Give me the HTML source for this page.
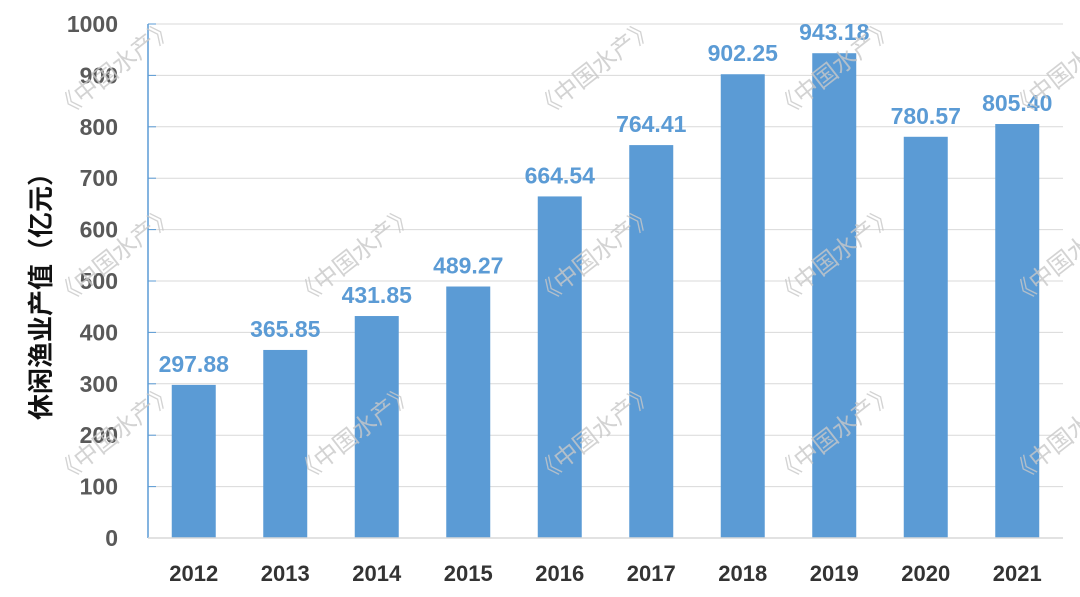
<!DOCTYPE html>
<html><head><meta charset="utf-8"><style>
html,body{margin:0;padding:0;background:#fff;width:1080px;height:597px;overflow:hidden;}
svg{display:block;overflow:hidden;font-family:"Liberation Sans","Noto Sans CJK SC",sans-serif;}
</style></head><body>
<svg id="chart" width="1080" height="597" viewBox="0 0 1080 597" xmlns="http://www.w3.org/2000/svg">
<g id="grid"></g>
<g id="bars"></g>
<g id="axes"></g>
<g id="wm"></g>
<text transform="translate(50,290) rotate(-90)" text-anchor="middle" font-size="26" font-weight="bold" fill="#111">休闲渔业产值（亿元）</text>
</svg>
<script>
const categories = ["2012","2013","2014","2015","2016","2017","2018","2019","2020","2021"];
const values = [297.88,365.85,431.85,489.27,664.54,764.41,902.25,943.18,780.57,805.40];
const valueLabels = ["297.88","365.85","431.85","489.27","664.54","764.41","902.25","943.18","780.57","805.40"];
const yTicks = [0,100,200,300,400,500,600,700,800,900,1000];

const NS="http://www.w3.org/2000/svg";
const x0=148, step=91.5, y0=538, yTop=24, yMax=1000, barW=44;
const yS=v=>y0-(v/yMax)*(y0-yTop);
const xC=i=>x0+step*(i+0.5);
function mk(tag,attrs,parent,text){const e=document.createElementNS(NS,tag);for(const k in attrs)e.setAttribute(k,attrs[k]);if(text!==undefined)e.textContent=text;parent.appendChild(e);return e;}
const grid=document.getElementById('grid'),bars=document.getElementById('bars'),axes=document.getElementById('axes'),wm=document.getElementById('wm');
const xEnd=x0+step*categories.length;
yTicks.forEach(t=>{
  const y=yS(t);
  if(t>0){const g=mk('line',{x1:x0,x2:xEnd,y1:y,y2:y,stroke:'#d9d9d9','stroke-width':1},grid);
  
  }
  const tk=mk('line',{x1:x0,x2:x0+8,y1:y,y2:y,stroke:'#5b9bd5','stroke-width':1},axes);
  
  
  const lb=mk('text',{x:118,y:y+8,'text-anchor':'end','font-size':23,'font-weight':'bold',fill:'#595959'},axes,String(t));
  
  
});
const ya=mk('line',{x1:x0,x2:x0,y1:yTop,y2:y0,stroke:'#5b9bd5','stroke-width':1.5},axes);


const xa=mk('line',{x1:x0,x2:xEnd,y1:y0,y2:y0,stroke:'#d9d9d9','stroke-width':1.5},axes);


categories.forEach((c,i)=>{
  const cx=xC(i),y=yS(values[i]);
  const r=mk('rect',{x:cx-barW/2,y:y,width:barW,height:y0-y,fill:'#5b9bd5'},bars);
  
  
  const v=mk('text',{x:cx,y:y-13,'text-anchor':'middle','font-size':23,'font-weight':'bold',fill:'#5b9bd5'},bars,valueLabels[i]);
  
  
  const l=mk('text',{x:cx,y:581,'text-anchor':'middle','font-size':22,'font-weight':'bold',fill:'#333'},axes,c);
  
  
});
[[120,75],[120,262],[120,440],[360,262],[360,440],[600,75],[600,262],[600,440],[840,75],[840,262],[840,440],[1075,75],[1075,262],[1075,440]].forEach(p=>{
  const w=mk('text',{x:p[0],y:p[1],'text-anchor':'middle','font-size':24,fill:'#c8c8c8','fill-opacity':0.8,transform:`rotate(-38 ${p[0]} ${p[1]})`},wm,'《中国水产》');
  
  
});
</script>
</body></html>
